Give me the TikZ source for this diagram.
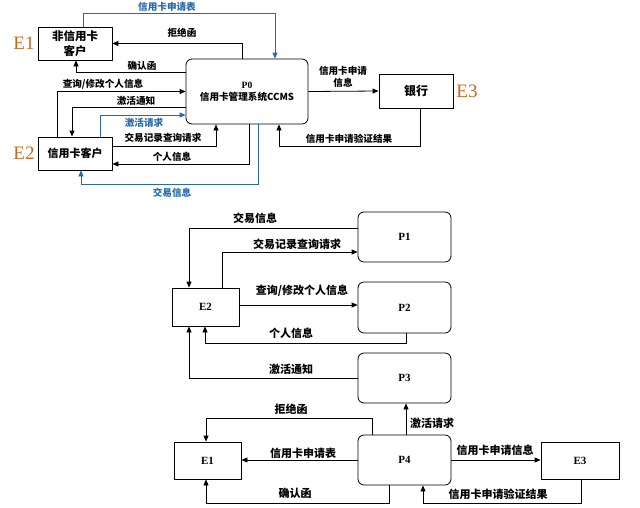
\documentclass[tikz,border=0pt]{standalone}
\usepackage{fontspec}
\newfontfamily\cjk{Noto Sans CJK SC}
\setmainfont{Liberation Serif}
\usepackage{tikz}
\usetikzlibrary{arrows.meta,positioning,calc}
\definecolor{flowblue}{RGB}{40,105,170}
\definecolor{tagorange}{RGB}{200,105,30}

\tikzset{
  ent/.style={draw,line width=0.8pt,minimum width=#1,font=\cjk\bfseries\fontsize{11.5}{13}\selectfont,align=center},
  proc/.style={draw,line width=0.8pt,rounded corners=6pt,font=\bfseries\fontsize{11}{13}\selectfont},
  flow/.style={line width=0.8pt,-{Triangle[length=6pt,width=5pt]}},
  bflow/.style={flow,draw=flowblue},
  lbl/.style={font=\cjk\bfseries\fontsize{9.6}{11}\selectfont,inner sep=0pt},
  blbl/.style={lbl,text=flowblue},
  lblb/.style={font=\cjk\bfseries\fontsize{11}{13}\selectfont,inner sep=0pt},
  tag/.style={font=\fontsize{19}{20}\selectfont,text=tagorange,inner sep=0pt}
}

\begin{document}
\begin{tikzpicture}[x=1pt,y=-1pt]
  \useasboundingbox (0,0) rectangle (640,507);

  % context diagram
  \node[ent=74pt,minimum height=33pt,inner sep=1pt] (e1) at (75,43.5) {非信用卡\\[2pt]客户};
  \node[ent=74pt,minimum height=33pt,font=\cjk\bfseries\fontsize{11}{13}\selectfont] (e2) at (75,153.5) {信用卡客户};
  \node[draw,line width=0.8pt,rounded corners=6pt,minimum width=122pt,minimum height=65pt,
        align=center,font=\cjk\bfseries\fontsize{9.6}{12}\selectfont] (p0) at (247,91.5)
        {{\rmfamily P0}\\信用卡管理系统CCMS};
  \node[ent=74pt,minimum height=34pt,font=\cjk\bfseries\fontsize{12}{13}\selectfont] (bank) at (416,91) {银行};
  \node[tag] (t1) at (24,43) {E1};
  \node[tag] (t2) at (24,153) {E2};
  \node[tag] (t3) at (467,91) {E3};

  \draw[bflow] ([xshift=8pt]e1.north) -- ++(0,-13) -| ([xshift=28pt]p0.north);
  \draw[flow] ([xshift=-5pt]p0.north) |- (e1.east);
  \draw[flow] ([yshift=19.5pt]p0.west) -| ([xshift=1pt]e1.south);
  \draw[flow] ([xshift=-18pt]e2.north) |- (p0.west);
  \draw[flow] ([yshift=-15.5pt]p0.west) -| ([xshift=-3pt]e2.north);
  \draw[bflow] ([xshift=25pt]e2.north) |- ([yshift=-23.5pt]p0.west);
  \draw[flow] ([yshift=7.5pt]e2.east) -| ([xshift=-31pt]p0.south);
  \draw[flow] ([xshift=2pt]p0.south) |- ([yshift=-10.5pt]e2.east);
  \draw[bflow] ([xshift=11pt]p0.south) -- ++(0,60) -| ([xshift=6pt]e2.south);
  \draw[flow] (p0.east) -- (bank.west);
  \draw[flow] ([xshift=4pt]bank.south) -- ++(0,38) -| ([xshift=32pt]p0.south);

  \node[blbl] (a1) at (167,7) {信用卡申请表};
  \node[lbl] (a2) at (182,33) {拒绝函};
  \node[lbl] (a3) at (142,66) {确认函};
  \node[lbl] (a4) at (103,84) {查询/修改个人信息};
  \node[lbl] (a5) at (136,101) {激活通知};
  \node[blbl] (a6) at (144,123) {激活请求};
  \node[lbl] (a7) at (163,138) {交易记录查询请求};
  \node[lbl] (a8) at (172,157) {个人信息};
  \node[blbl] (a9) at (172,193) {交易信息};
  \node[lbl,align=center] (a10) at (343,77) {信用卡申请\\[1pt]信息};
  \node[lbl] (a11) at (349,139) {信用卡申请验证结果};

  % level-1 diagram
  \node[proc,minimum width=93pt,minimum height=50pt] (p1) at (404.5,237) {P1};
  \node[proc,minimum width=93pt,minimum height=51pt] (p2) at (404.5,307.5) {P2};
  \node[proc,minimum width=93pt,minimum height=50pt] (p3) at (404.5,378) {P3};
  \node[proc,minimum width=93pt,minimum height=50pt] (p4) at (404.5,460) {P4};
  \node[draw,line width=0.8pt,minimum width=67pt,minimum height=38pt,font=\bfseries\fontsize{11}{13}\selectfont] (f2) at (205.5,307) {E2};
  \node[draw,line width=0.8pt,minimum width=67pt,minimum height=37pt,font=\bfseries\fontsize{11}{13}\selectfont] (f1) at (207.5,460.5) {E1};
  \node[draw,line width=0.8pt,minimum width=78pt,minimum height=37pt,font=\bfseries\fontsize{11}{13}\selectfont] (f3) at (580,460.5) {E3};

  \draw[flow] ([yshift=9pt]p1.west) -| ([xshift=-16.5pt]f2.north);
  \draw[flow] ([xshift=16.5pt]f2.north) |- ([yshift=-15pt]p1.west);
  \draw[flow] ([yshift=2pt]f2.east) -- ([yshift=2pt]f2.east -| p2.west);
  \draw[flow] ([xshift=1.5pt]p2.south) -- ++(0,10) -| ([xshift=-0.5pt]f2.south);
  \draw[flow] (p3.west) -| ([xshift=-16.5pt]f2.south);
  \draw[flow] ([xshift=1.5pt]p4.north) -- ([xshift=1.5pt]p3.south);
  \draw[flow] ([xshift=-32.5pt]p4.north) -- ++(0,-16) -| ([xshift=-1.5pt]f1.north);
  \draw[flow] (p4.west) -- (p4.west -| f1.east);
  \draw[flow] (p4.east) -- (p4.east -| f3.west);
  \draw[flow] ([xshift=-15.5pt]p4.south) -- ++(0,18) -| ([xshift=-1.5pt]f1.south);
  \draw[flow] ([xshift=1pt]f3.south) -- ++(0,24) -| ([xshift=18.5pt]p4.south);

  \node[lblb] (b1) at (255,218) {交易信息};
  \node[lblb] (b2) at (297,244) {交易记录查询请求};
  \node[lblb] (b3) at (302,291) {查询/修改个人信息};
  \node[lblb] (b4) at (291,333) {个人信息};
  \node[lblb] (b5) at (291,369) {激活通知};
  \node[lblb] (b6) at (291,409) {拒绝函};
  \node[lblb] (b7) at (432,423) {激活请求};
  \node[lblb] (b8) at (303,453) {信用卡申请表};
  \node[lblb] (b9) at (495,450) {信用卡申请信息};
  \node[lblb] (b10) at (295,493) {确认函};
  \node[lblb] (b11) at (498,494) {信用卡申请验证结果};
\end{tikzpicture}
\end{document}
